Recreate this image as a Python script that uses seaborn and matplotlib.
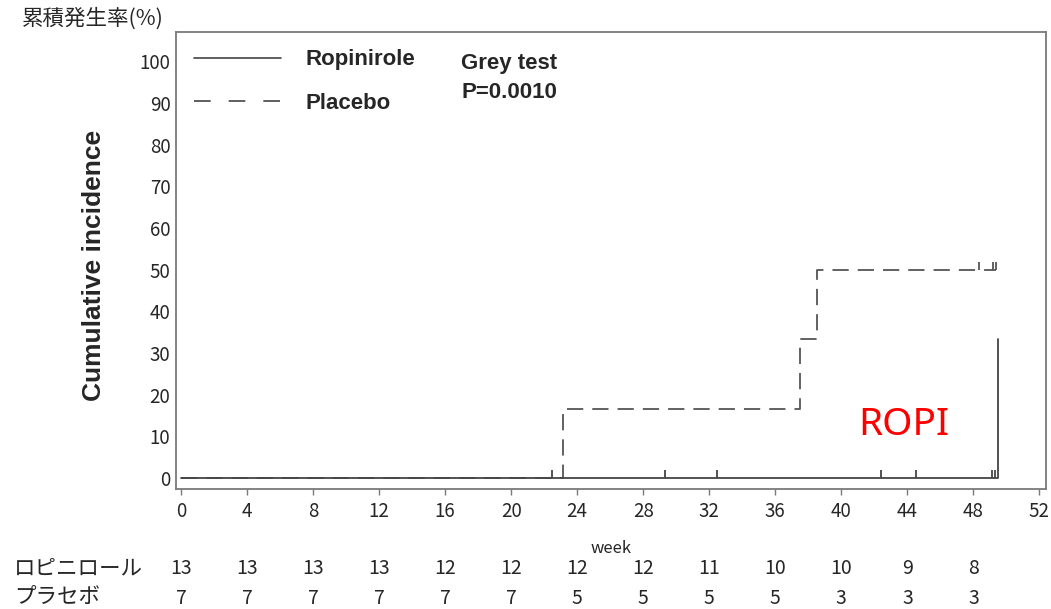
import numpy as np
import pandas as pd
import matplotlib
matplotlib.use("Agg")
import matplotlib.pyplot as plt
import seaborn as sns
from matplotlib.path import Path
from matplotlib.lines import Line2D
import matplotlib.transforms as mtrans

# ---- data ----
ropi_t = [0.0, 49.5]
ropi_v = [0.0, 33.3]
plac_t = [0.0, 23.15, 37.5, 38.5, 49.4]
plac_v = [0.0, 16.67, 33.33, 50.0, 50.0]
ropi_cens_t = [22.45, 29.35, 32.5, 42.4, 44.5, 49.15, 49.3]
ropi_cens_v = [0, 0, 0, 0, 0, 0, 0]
plac_cens_t = [48.37, 49.2, 49.4]
plac_cens_v = [50, 50, 50]
risk_weeks = [0, 4, 8, 12, 16, 20, 24, 28, 32, 36, 40, 44, 48]
risk_ropi = [13, 13, 13, 13, 12, 12, 12, 12, 11, 10, 10, 9, 8]
risk_plac = [7, 7, 7, 7, 7, 7, 5, 5, 5, 5, 3, 3, 3]
row_labels = ["ロピニロール", "プラセボ"]
xticks = list(range(0, 53, 4))
yticks = list(range(0, 101, 10))

sns.set_style("white")
plt.rcParams['font.family'] = ['Noto Sans CJK JP', 'DejaVu Sans']

fig = plt.figure(figsize=(10.51, 6.09), dpi=100)
W, H = 1051, 609
ax = fig.add_axes([176 / W, 1 - 489 / H, (1046 - 176) / W, (489 - 32) / H])

line_col = "#444444"
frame_col = "#7a7a7a"

df_r = pd.DataFrame({"t": ropi_t, "v": ropi_v})
df_p = pd.DataFrame({"t": plac_t, "v": plac_v})
sns.lineplot(data=df_p, x="t", y="v", ax=ax, drawstyle="steps-post",
             color="#555555", linewidth=1.3, dashes=False, linestyle=(0, (9, 5)))
sns.lineplot(data=df_r, x="t", y="v", ax=ax, drawstyle="steps-post",
             color=line_col, linewidth=1.3)

up_tick = Path([[0, 0], [0, 1]])
ax.plot(ropi_cens_t, ropi_cens_v, linestyle="none", marker=up_tick,
        markersize=12, markeredgewidth=1.3, color=line_col)
ax.plot(plac_cens_t, plac_cens_v, linestyle="none", marker=up_tick,
        markersize=12, markeredgewidth=1.3, color="#555555")

ax.set_xlim(-0.3, 52.4)
ax.set_ylim(-2.6, 107)
ax.set_xticks(xticks)
ax.set_yticks(yticks)
ax.tick_params(axis="x", direction="out", length=4.5, width=1, color=frame_col,
               labelsize=13.5, pad=4, bottom=True)
ax.tick_params(axis="y", length=0, labelsize=13.5, pad=4, left=True)
for s in ax.spines.values():
    s.set_color(frame_col)
    s.set_linewidth(1.3)
    s.set_visible(True)

ax.set_xlabel("week", fontsize=12, labelpad=13)
ax.set_ylabel("Cumulative incidence", fontsize=19, fontweight="bold",
              family=["Liberation Sans", "DejaVu Sans"])
ax.yaxis.set_label_coords(-0.081, 0.49)

handles = [Line2D([], [], color=line_col, linewidth=1.2),
           Line2D([], [], color=line_col, linewidth=1.2, linestyle=(0, (10, 10.8)))]
leg = ax.legend(handles, ["Ropinirole", "Placebo"], loc="upper left",
                bbox_to_anchor=(0.021, 0.962), frameon=False, handlelength=3.9,
                handletextpad=1.1, labelspacing=1.02, borderpad=0, borderaxespad=0,
                prop={"family": ["Liberation Sans", "DejaVu Sans"], "weight": "bold", "size": 16})

ax.text(0.3276, 0.955, "Grey test\nP=0.0010", transform=ax.transAxes, ha="left", va="top",
        fontsize=16, fontweight="bold", family=["Liberation Sans", "DejaVu Sans"],
        linespacing=1.55)
ax.text(0.784, 0.139, "ROPI", transform=ax.transAxes, ha="left", va="center",
        fontsize=28, color="red", family=["Noto Sans", "DejaVu Sans"])

fig.text(22 / W, 1 - 19 / H, "累積発生率(%)", ha="left", va="center", fontsize=15.5)

tr = mtrans.blended_transform_factory(ax.transData, fig.transFigure)
for wk, n1, n2 in zip(risk_weeks, risk_ropi, risk_plac):
    ax.text(wk, 1 - 568 / H, str(n1), transform=tr, ha="center", va="center", fontsize=14)
    ax.text(wk, 1 - 598 / H, str(n2), transform=tr, ha="center", va="center", fontsize=14)
fig.text(14 / W, 1 - 568 / H, row_labels[0], ha="left", va="center", fontsize=15.5)
fig.text(14 / W, 1 - 598 / H, row_labels[1], ha="left", va="center", fontsize=15.5)

fig.savefig("out.png", dpi=100, facecolor="white")
